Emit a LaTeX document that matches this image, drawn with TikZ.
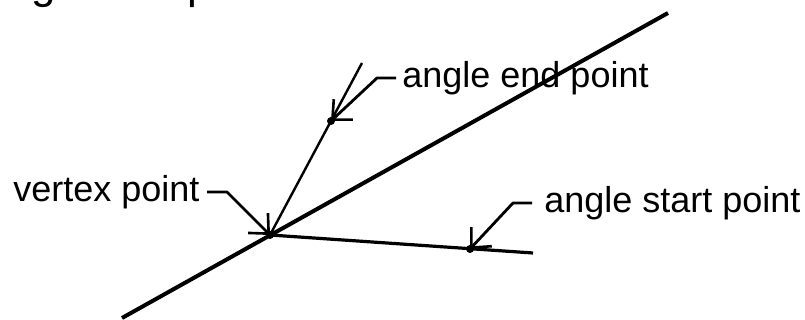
\documentclass[tikz,border=0pt]{standalone}
\usepackage{fontspec}
\setmainfont{Liberation Sans}
\usetikzlibrary{arrows.meta}
\begin{document}
\begin{tikzpicture}[x=0.5pt,y=-0.5pt,
 lbl/.style={inner sep=0pt, anchor=base west, font=\fontsize{18pt}{21pt}\selectfont},
 leader/.style={line width=1.4pt, line join=round, -{Straight Barb[length=7.5pt,width=14pt,line width=1.3pt]}},
 dot/.style={circle, fill, inner sep=0pt, minimum size=4pt}
]
\useasboundingbox (0,0) rectangle (805,320);
\clip (0,0) rectangle (805,320);
% geometry
\coordinate (A) at (122,318);
\coordinate (B) at (668,13);
\node[dot] (V) at (270,235) {};
\coordinate (R) at (362,63);
\node[dot] (E) at (331,121) {};
\node[dot] (S) at (470,249) {};
\coordinate (T) at (533,253);
\draw[line width=2pt] (A) -- (B);
\draw[line width=1.2pt] (V.center) -- (R);
\draw[line width=1.6pt] (V.center) -- (T);
% title (cropped at the top edge)
\node[inner sep=0pt, anchor=base west, font=\fontsize{22pt}{26pt}\selectfont] (title) at (-18,-1) {angle end point};
% labels
\node[lbl] (le) at (402,88) {angle end point};
\node[lbl] (lv) at (13,202) {vertex point};
\node[lbl] (ls) at (544,213) {angle start point};
% leaders
\coordinate (le1) at (396,78);
\coordinate (le2) at (377,78);
\draw[leader] (le1) -- (le2) -- (E.center);
\coordinate (lv1) at (207,192);
\coordinate (lv2) at (227,192);
\draw[leader] (lv1) -- (lv2) -- (V.center);
\coordinate (ls1) at (532,203);
\coordinate (ls2) at (513,203);
\draw[leader] (ls1) -- (ls2) -- (S.center);
\end{tikzpicture}
\end{document}
